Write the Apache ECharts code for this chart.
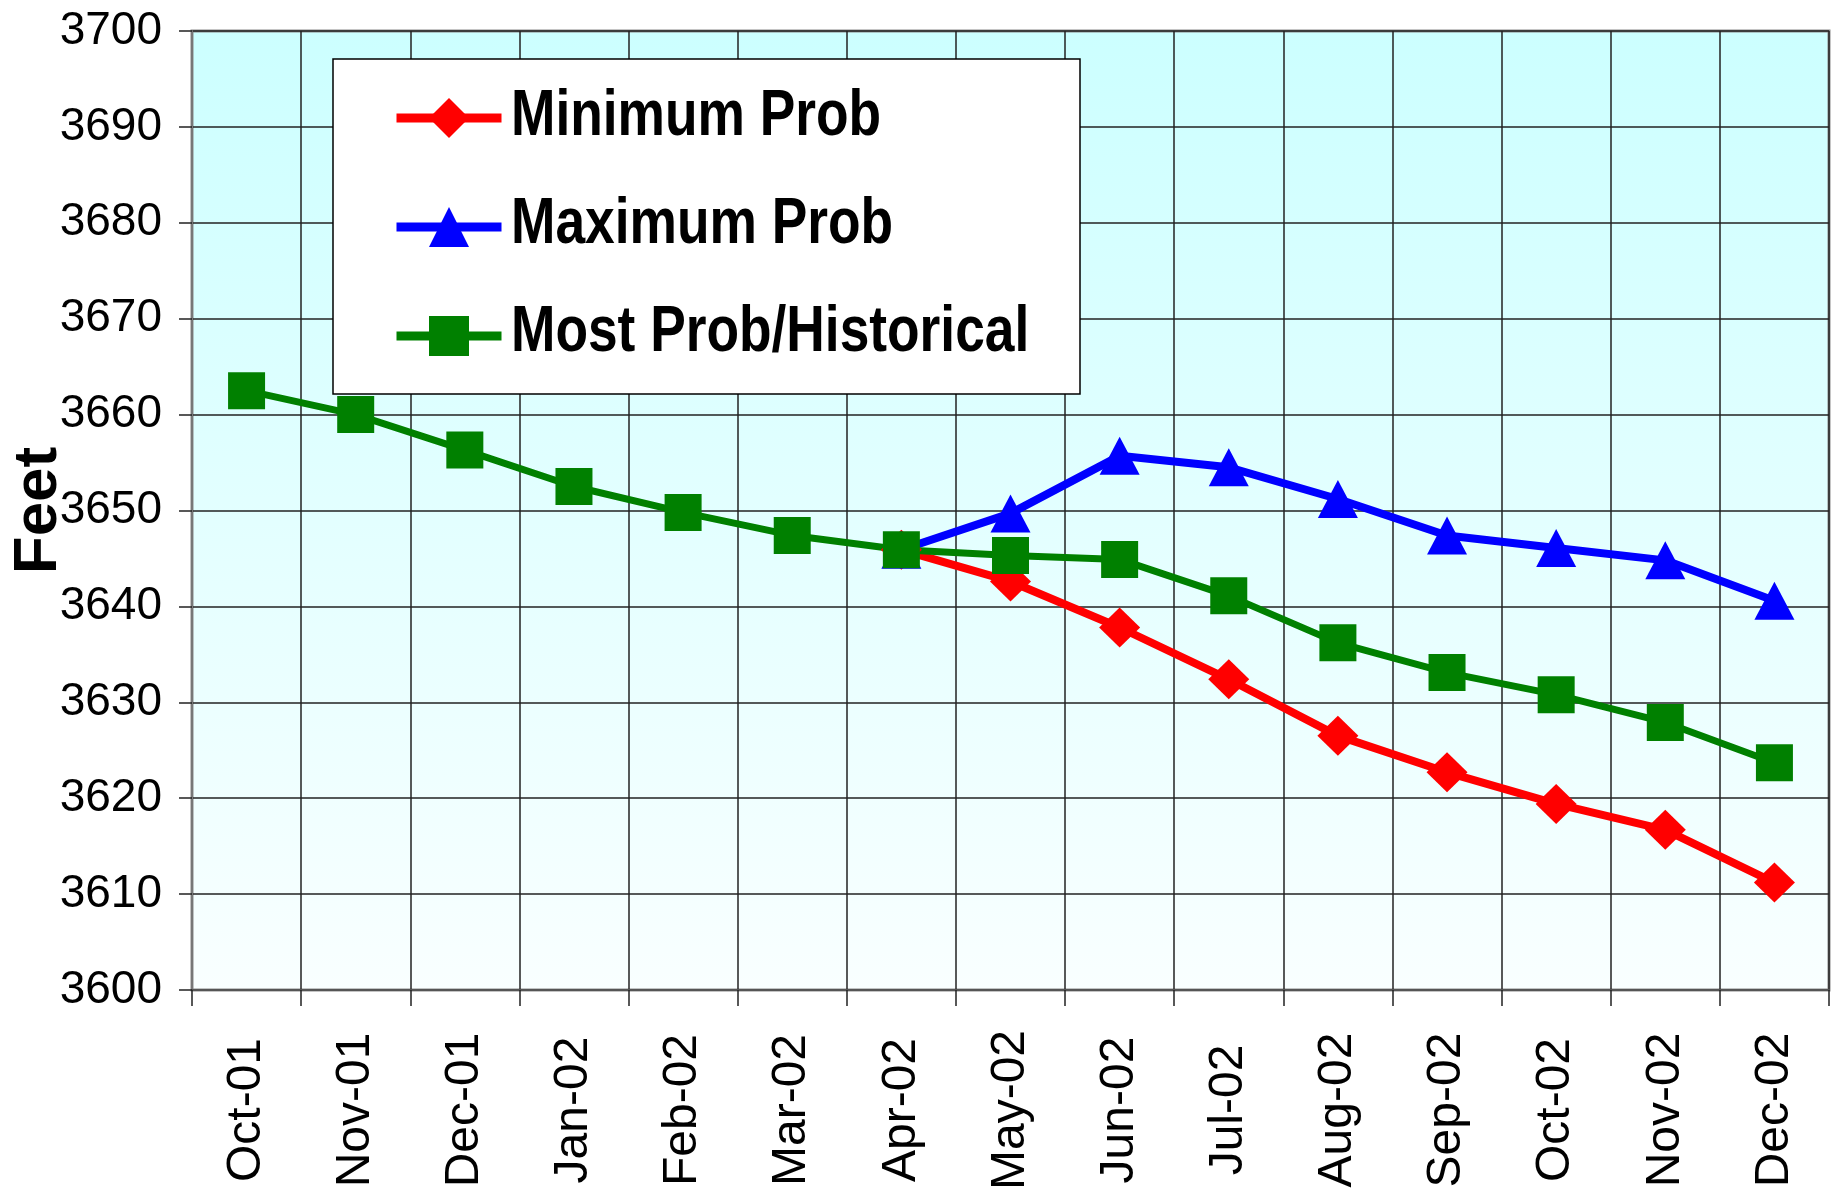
<!DOCTYPE html>
<html><head><meta charset="utf-8">
<script src="https://cdn.jsdelivr.net/npm/echarts@6/dist/echarts.min.js"></script>
<style>html,body{margin:0;padding:0;background:#fff}#c{width:1845px;height:1201px}</style>
</head><body><div id="c"></div>
<script>
const categories = ['Oct-01','Nov-01','Dec-01','Jan-02','Feb-02','Mar-02','Apr-02','May-02','Jun-02','Jul-02','Aug-02','Sep-02','Oct-02','Nov-02','Dec-02'];
const minimumProb = [null,null,null,null,null,null,3645.9,3642.6,3637.8,3632.4,3626.5,3622.7,3619.4,3616.7,3611.2];
const maximumProb = [null,null,null,null,null,null,3645.9,3649.7,3655.7,3654.5,3651.2,3647.4,3646.1,3644.8,3640.6];
const mostProb = [3662.5,3660.0,3656.3,3652.5,3649.8,3647.4,3645.9,3645.3,3644.9,3641.1,3636.2,3633.1,3630.8,3627.9,3623.7];
const yTickLabels = [3600,3610,3620,3630,3640,3650,3660,3670,3680,3690,3700];
const seriesNames = ['Minimum Prob','Maximum Prob','Most Prob/Historical'];

const chart = echarts.init(document.getElementById('c'), null, {renderer:'canvas'});
const sans = "'Liberation Sans', Arial, sans-serif";

// legend text rows (drawn as condensed bold text beside the legend icons)
const legendRowY = [117, 225, 333];
const legendTexts = seriesNames.map((n, i) => ({
  type:'text', x:511, y:legendRowY[i], scaleX:0.82, z:100, silent:true,
  style:{text:n, font:"bold 65px 'Liberation Sans', Arial, sans-serif", fill:'#000', textVerticalAlign:'middle', textAlign:'left'}
}));

chart.setOption({
  animation:false,
  backgroundColor:'#ffffff',
  grid:{
    left:192, top:31, right:16, bottom:211,
    show:true,
    borderColor:'#8a8a8a', borderWidth:3,
    backgroundColor:{type:'linear',x:0,y:0,x2:0,y2:1,colorStops:[{offset:0,color:'#ccffff'},{offset:1,color:'#f9ffff'}]},
    containLabel:false,
    outerBoundsMode:'none'
  },
  graphic:legendTexts,
  legend:{
    orient:'vertical',
    left:333, top:59,
    padding:[34,574,38,59],
    itemGap:64,
    itemWidth:105, itemHeight:50,
    backgroundColor:'#ffffff',
    borderColor:'#000000', borderWidth:1.5, borderRadius:0,
    data:seriesNames,
    formatter:function(){ return ''; },
    lineStyle:{width:9},
    textStyle:{fontSize:10, color:'#000'}
  },
  xAxis:{
    type:'category', data:categories, boundaryGap:true,
    axisLine:{show:true, lineStyle:{color:'#555', width:2}},
    axisTick:{show:true, alignWithLabel:false, length:16, lineStyle:{color:'#222', width:1.5}},
    splitLine:{show:true, lineStyle:{color:'#222', width:1.5}},
    axisLabel:{rotate:90, align:'center', verticalAlign:'middle', margin:120, interval:0, fontFamily:sans, fontSize:48, color:'#000'}
  },
  yAxis:{
    type:'value', min:yTickLabels[0], max:yTickLabels[yTickLabels.length-1], interval:yTickLabels[1]-yTickLabels[0],
    name:'Feet', nameLocation:'middle', nameGap:153, nameRotate:90, nameMoveOverlap:false,
    nameTextStyle:{fontFamily:sans, fontWeight:'bold', fontSize:62, color:'#000', verticalAlign:'middle', align:'center'},
    axisLine:{show:true, lineStyle:{color:'#777', width:2}},
    axisTick:{show:true, length:13, lineStyle:{color:'#222', width:1.5}},
    splitLine:{show:true, lineStyle:{color:'#222', width:1.5}},
    axisLabel:{margin:30, fontFamily:sans, fontSize:46, color:'#000', formatter:function(v){ return String(v); }}
  },
  series:[
    {name:seriesNames[0], type:'line', data:minimumProb, symbol:'diamond', symbolSize:[41,40], showAllSymbol:true,
     lineStyle:{color:'#ff0000', width:8}, itemStyle:{color:'#ff0000'}},
    {name:seriesNames[1], type:'line', data:maximumProb, symbol:'triangle', symbolSize:[40,38], showAllSymbol:true,
     lineStyle:{color:'#0000ff', width:8}, itemStyle:{color:'#0000ff'}},
    {name:seriesNames[2], type:'line', data:mostProb, symbol:'rect', symbolSize:[37,37], showAllSymbol:true,
     lineStyle:{color:'#008000', width:7}, itemStyle:{color:'#008000'}}
  ]
});
</script></body></html>
